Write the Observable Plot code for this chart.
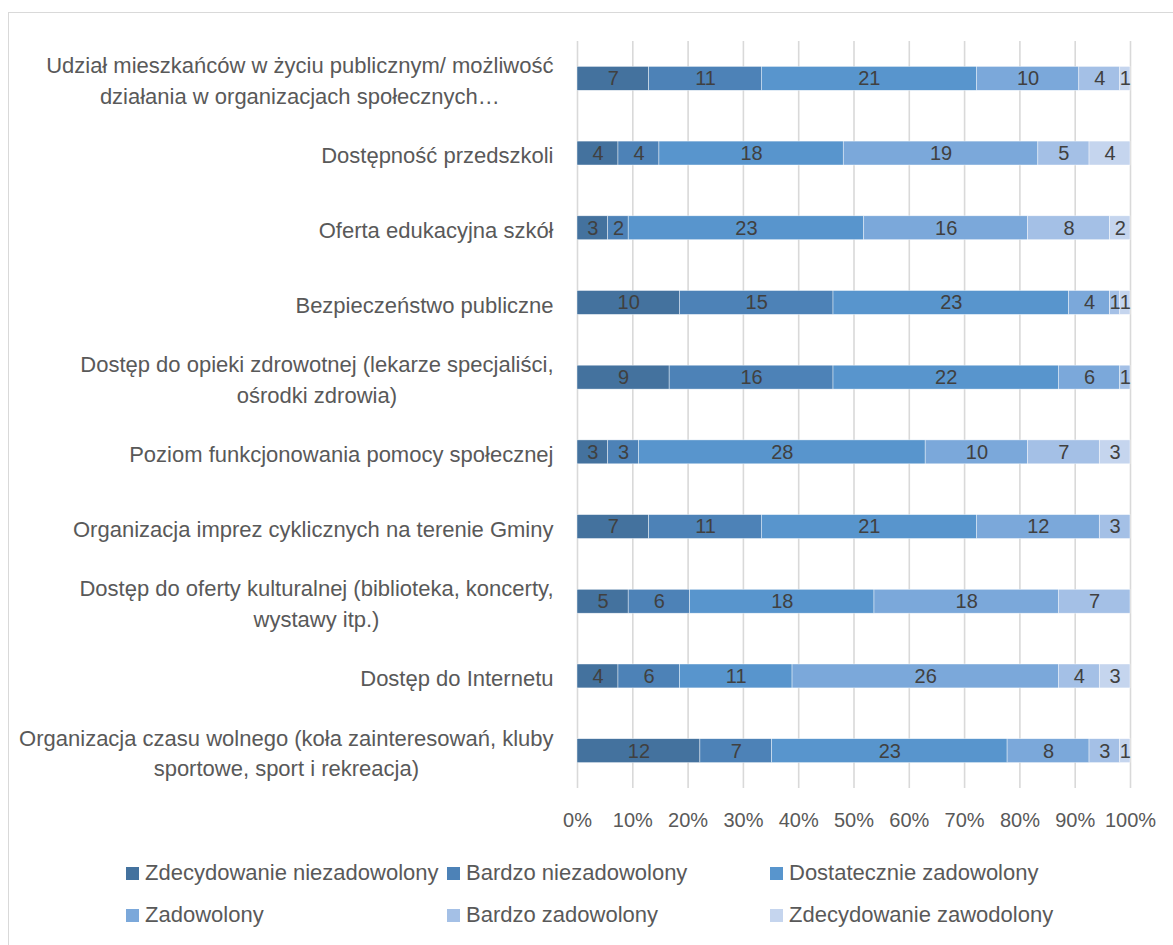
<!DOCTYPE html>
<html>
<head>
<meta charset="utf-8">
<script src="https://cdn.jsdelivr.net/npm/d3@7"></script>
<script src="https://cdn.jsdelivr.net/npm/@observablehq/plot@0.6"></script>
<style>
  body { margin: 0; background: #fff; font-family: "Liberation Sans", Arial, sans-serif; }
  #frame { position: absolute; left: 8px; top: 12px; width: 1300px; height: 1100px; border: 1px solid #d9d9d9; box-sizing: border-box; }
  #chart { position: absolute; left: 0; top: 0; }
  #legend { position: absolute; left: 126px; top: 852px; display: grid; grid-template-columns: 321px 323px 321px; grid-auto-rows: 42px; }
  .item { display: flex; align-items: center; font-size: 22px; color: #595959; white-space: nowrap; }
  .sw { width: 13px; height: 13px; margin-right: 6px; flex: none; }
</style>
</head>
<body>
<div id="frame"></div>
<div id="chart"></div>
<div id="legend"></div>
<script>
const categories = [
  "Udział mieszkańców w życiu publicznym/ możliwość\ndziałania w organizacjach społecznych…",
  "Dostępność przedszkoli",
  "Oferta edukacyjna szkół",
  "Bezpieczeństwo publiczne",
  "Dostęp do opieki zdrowotnej (lekarze specjaliści,\nośrodki zdrowia)",
  "Poziom funkcjonowania pomocy społecznej",
  "Organizacja imprez cyklicznych na terenie Gminy",
  "Dostęp do oferty kulturalnej (biblioteka, koncerty,\nwystawy itp.)",
  "Dostęp do Internetu",
  "Organizacja czasu wolnego (koła zainteresowań, kluby\nsportowe, sport i rekreacja)"
];
const seriesNames = [
  "Zdecydowanie niezadowolony",
  "Bardzo niezadowolony",
  "Dostatecznie zadowolony",
  "Zadowolony",
  "Bardzo zadowolony",
  "Zdecydowanie zawodolony"
];
const zdecydowanieNiezadowolony = [7, 4, 3, 10, 9, 3, 7, 5, 4, 12];
const bardzoNiezadowolony       = [11, 4, 2, 15, 16, 3, 11, 6, 6, 7];
const dostatecznieZadowolony    = [21, 18, 23, 23, 22, 28, 21, 18, 11, 23];
const zadowolony                = [10, 19, 16, 4, 6, 10, 12, 18, 26, 8];
const bardzoZadowolony          = [4, 5, 8, 1, 1, 7, 3, 7, 4, 3];
const zdecydowanieZawodolony    = [1, 4, 2, 1, 0, 3, 0, 0, 3, 1];
const seriesColors = ["#44729e", "#4d82b7", "#5895cd", "#7ba8da", "#a4c0e6", "#c5d5ee"];
const xTicks = [0, 0.1, 0.2, 0.3, 0.4, 0.5, 0.6, 0.7, 0.8, 0.9, 1];

const seriesValues = [zdecydowanieNiezadowolony, bardzoNiezadowolony, dostatecznieZadowolony,
                      zadowolony, bardzoZadowolony, zdecydowanieZawodolony];
const rows = [];
categories.forEach((cat, i) => {
  seriesNames.forEach((s, j) => rows.push({cat, series: s, value: seriesValues[j][i]}));
});

const FONT = '"Liberation Sans", Arial, sans-serif';

const chart = Plot.plot({
  width: 1173,
  height: 845,
  marginLeft: 577,
  marginRight: 43,
  marginTop: 41,
  marginBottom: 57,
  style: {fontFamily: FONT, fontSize: "22px", color: "#595959", background: "transparent", overflow: "visible"},
  x: {domain: [0, 1], axis: null, label: null},
  y: {domain: categories, paddingInner: 0.68, paddingOuter: 0.34, round: false, axis: null, label: null},
  color: {domain: seriesNames, range: seriesColors},
  marks: [
    Plot.gridX(xTicks, {stroke: "#d9d9d9", strokeOpacity: 1, strokeWidth: 1.6}),
    Plot.barX(rows, Plot.stackX({x: "value", y: "cat", fill: "series", offset: "normalize", order: seriesNames,
      stroke: "#ffffff", strokeWidth: 0.6, strokeOpacity: 0.7})),
    Plot.text(rows, Plot.stackX({x: "value", y: "cat", z: "series", text: "value", offset: "normalize",
      order: seriesNames, filter: d => d.value > 0, fill: "#404040", fontSize: 20})),
    Plot.axisX({ticks: xTicks, tickFormat: d3.format(".0%"), tickSize: 0, tickPadding: 24, fontSize: 20,
      fill: "#595959", label: null}),
    Plot.axisY({tickSize: 0, tickPadding: 24, fontSize: 22, fill: "#595959", lineHeight: 1.4, label: null})
  ]
});
document.getElementById("chart").appendChild(chart);

// centre multi-line category labels within their block (block right-aligned)
d3.select(chart).selectAll('g[aria-label="y-axis tick label"] text').each(function() {
  const spans = this.querySelectorAll("tspan");
  if (spans.length > 1) {
    let maxW = 0;
    spans.forEach(s => { maxW = Math.max(maxW, s.getComputedTextLength()); });
    this.setAttribute("text-anchor", "middle");
    spans.forEach(s => s.setAttribute("x", -maxW / 2));
  }
});

const legend = d3.select("#legend");
seriesNames.forEach((s, i) => {
  const item = legend.append("div").attr("class", "item");
  item.append("div").attr("class", "sw").style("background", seriesColors[i]);
  item.append("span").text(s);
});
</script>
</body>
</html>
